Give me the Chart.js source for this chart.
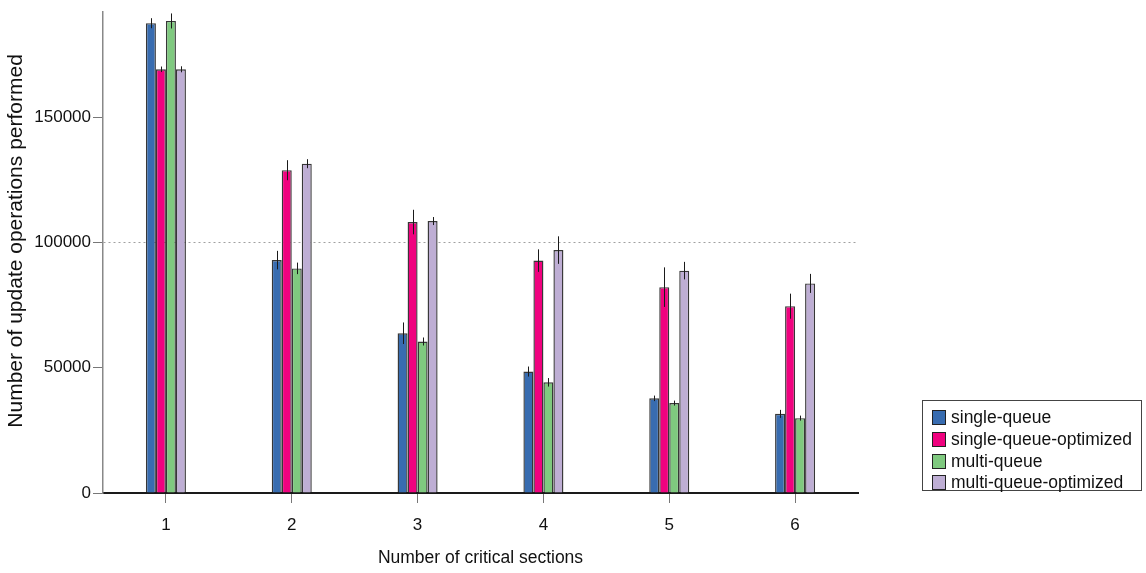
<!DOCTYPE html>
<html>
<head>
<meta charset="utf-8">
<script src="https://cdn.jsdelivr.net/npm/chart.js@4.4.1/dist/chart.umd.min.js"></script>
<style>
  html, body { margin: 0; padding: 0; background: #fff; }
  #wrap { position: relative; width: 1146px; height: 573px; }
  .legend {
    position: absolute; left: 922px; top: 400px; width: 220px; height: 91px;
    border: 1px solid #444; font-family: 'Liberation Sans', Arial, sans-serif;
    font-size: 17.5px; color: #111; padding-top: 6px; box-sizing: border-box;
  }
  .legend div { height: 21.8px; line-height: 21.8px; white-space: nowrap; padding-left: 9px; }
  .legend i { display: inline-block; width: 12px; height: 13px; border: 1px solid #222; vertical-align: -2px; margin-right: 5px; }
</style>
</head>
<body>
<div id="wrap">
  <canvas id="ops-chart"></canvas>
  <div class="legend" id="legend"></div>
</div>
<script>
// update operations vs. number of critical sections, mean ± error
const sections = ['1', '2', '3', '4', '5', '6'];
const yTicks = [0, 50000, 100000, 150000];
const seriesNames = ['single-queue', 'single-queue-optimized', 'multi-queue', 'multi-queue-optimized'];
const seriesColors = ['#386cb0', '#f0027f', '#7fc97f', '#beaed4'];

const singleQueue = [187600, 93000, 63800, 48500, 37800, 31600];
const singleQueueOpt = [169200, 128900, 108200, 92800, 82200, 74600];
const multiQueue = [188500, 89700, 60500, 44200, 35900, 29900];
const multiQueueOpt = [169200, 131500, 108600, 97000, 88800, 83700];

const singleQueueErr = [2000, 3700, 4300, 2000, 1100, 1600];
const singleQueueOptErr = [1100, 4000, 4900, 4500, 7900, 5000];
const multiQueueErr = [3000, 2300, 1600, 1700, 1000, 1000];
const multiQueueOptErr = [1200, 1800, 1600, 5500, 3500, 3800];

const values = [singleQueue, singleQueueOpt, multiQueue, multiQueueOpt];
const errors = [singleQueueErr, singleQueueOptErr, multiQueueErr, multiQueueOptErr];

const FONT = "'Liberation Sans', Arial, sans-serif";

// vertical error whiskers, no caps
const errorBars = {
  id: 'errorBars',
  afterDatasetsDraw(chart) {
    const { ctx, scales: { y } } = chart;
    ctx.save();
    ctx.strokeStyle = '#1a1a1a';
    ctx.lineWidth = 1;
    chart.data.datasets.forEach((ds, i) => {
      chart.getDatasetMeta(i).data.forEach((bar, j) => {
        const v = ds.data[j], e = errors[i][j];
        const x = Math.round(bar.x) + 0.5;
        ctx.beginPath();
        ctx.moveTo(x, y.getPixelForValue(v + e));
        ctx.lineTo(x, y.getPixelForValue(v - e));
        ctx.stroke();
      });
    });
    ctx.restore();
  },
};

new Chart(document.getElementById('ops-chart'), {
  type: 'bar',
  data: {
    labels: sections,
    datasets: seriesNames.map((name, i) => ({
      label: name,
      data: values[i],
      backgroundColor: seriesColors[i],
      borderColor: 'rgba(20,20,20,0.85)',
      borderWidth: 1.4,
      categoryPercentage: 0.318,
      barPercentage: 1,
    })),
  },
  options: {
    responsive: true,
    maintainAspectRatio: false,
    animation: false,
    layout: { padding: { top: 7, right: 288, left: 0, bottom: 0 } },
    plugins: { legend: { display: false }, tooltip: { enabled: false } },
    scales: {
      x: {
        afterFit: (s) => { s.height = 80; },
        grid: { offset: false, drawOnChartArea: false, color: '#777', tickColor: '#777', tickLength: 10 },
        border: { color: '#1a1a1a', width: 2 },
        ticks: { color: '#111', font: { family: FONT, size: 17 }, padding: 12 },
        title: { display: true, text: 'Number of critical sections', color: '#111', font: { family: FONT, size: 17.5 }, padding: { top: 0, bottom: 4 } },
      },
      y: {
        min: 0,
        max: 192000,
        afterFit: (s) => { s.width = 103; },
        afterBuildTicks: (s) => { s.ticks = yTicks.map((v) => ({ value: v })); },
        grid: {
          // only the 100000 reference line is shown inside the plot
          color: (c) => (c.tick && c.tick.value === 100000 ? '#a0a0a0' : 'rgba(0,0,0,0)'),
          tickBorderDash: [],
          tickColor: '#777',
          tickLength: 10,
        },
        border: { color: '#888', width: 1.5, dash: [2, 3] },
        ticks: { color: '#111', font: { family: FONT, size: 17 }, padding: 2, callback: (v) => String(v) },
        title: { display: true, text: '    Number of update operations performed', color: '#111', font: { family: FONT, size: 21 }, padding: { top: 4 } },
      },
    },
  },
  plugins: [errorBars],
});

// legend drawn as plain HTML next to the plot
document.getElementById('legend').innerHTML = seriesNames
  .map((n, i) => `<div><i style="background:${seriesColors[i]}"></i>${n}</div>`)
  .join('');
</script>
</body>
</html>
